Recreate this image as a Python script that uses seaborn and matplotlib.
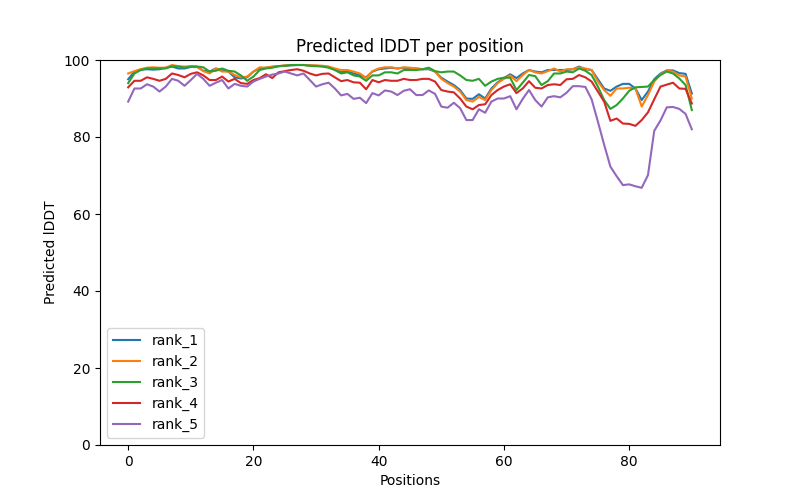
import numpy as np
import pandas as pd
import matplotlib
matplotlib.use('Agg')
import matplotlib.pyplot as plt
import seaborn as sns

# Predicted lDDT per position for the five ranked models
rank_1 = [95, 97, 97.5, 97.6, 97.5, 97.6, 98, 98.3, 97.8, 97.8, 98.2, 98.2, 97.2, 97, 97.8, 97.3, 97, 95.5, 95.2, 95.5,
          97, 97.8, 98, 98.2, 98.4, 98.5, 98.6, 98.7, 98.7, 98.6, 98.5, 98.4, 98.2,
          97.5, 96.8, 97, 96.5, 96, 95.5, 97, 97.6, 97.8, 98, 97.8, 98, 97.8, 97.8, 97.6, 97.6,
          97, 95.4, 94.4, 93.5, 92.2, 90, 89.9, 91.1, 90, 92.6, 94.2, 95.3, 96.3, 95.3, 96.5, 97.4, 97, 96.8,
          97.4, 97.4, 97.4, 97.4, 97.6, 98.3,
          97.6, 97.4, 95, 92.6, 92, 93.1, 93.8, 93.8, 92.6, 89.6, 91.8, 95, 96.5, 97.3, 97.3, 96.6, 96.4, 91.3]
rank_2 = [96.5, 97.1, 97.6, 98, 98.1, 98, 98, 98.7, 98.4, 98.3, 98.4, 98.3, 97.1, 96.5, 97.8, 97, 97, 96.1, 95.5, 95.7,
          97, 98.1, 98, 98.3, 98.4, 98.6, 98.7, 98.7, 98.7, 98.6, 98.6, 98.5, 98.3,
          97.8, 97.4, 97.4, 97, 96.5, 95.3, 97.1, 97.8, 98.1, 98.1, 97.8, 98.1, 98, 97.8, 97.6, 97.8,
          97, 95.1, 94, 93.1, 91.8, 89.6, 89.2, 90.4, 89.6, 92.2, 94, 95.1, 96, 94.5, 96.1, 97.4, 96.8, 96.5,
          97.1, 97.8, 97, 97.6, 97.6, 98.1,
          97.8, 97.4, 94.4, 92.2, 90.7, 92.6, 92.6, 92.8, 92.6, 87.9, 90.9, 94.4, 96.3, 97.2, 97, 96, 95.7, 90]
rank_3 = [94, 96.5, 97.4, 97.8, 97.8, 97.8, 97.8, 98.4, 98.3, 98, 98.3, 98.3, 98.1, 97, 97.2, 97.8, 97.2, 97, 96, 94.6,
          95.7, 97.4, 97.8, 98, 98.4, 98.5, 98.7, 98.7, 98.7, 98.5, 98.4, 98.3, 98,
          97.4, 96.5, 96.8, 96, 95.7, 94.6, 96, 96, 96.8, 96.8, 96.5, 97.4, 97.4, 97.4, 97.6, 98,
          97.1, 96.8, 97, 97, 96, 94.8, 94.6, 95.1, 93.3, 94.4, 95.1, 95.4, 95.4, 92.2, 94.1, 96.1, 95.8, 93.5,
          94.5, 96.5, 96.5, 97, 96.8, 97.8,
          97.2, 96.1, 93.1, 89.6, 87.3, 88.3, 90, 92, 92.9, 93, 93.1, 94.8, 96.1, 97, 96.5, 95.2, 93.5, 87]
rank_4 = [92.9, 94.6, 94.6, 95.5, 95.1, 94.6, 95.1, 96.5, 96.1, 95.5, 96.4, 96.8, 96, 94.8, 94.8, 95.7, 94.4, 95.1, 94,
          93.8, 94.8, 95.3, 96.3, 95.3, 96.8, 97.1, 97.4, 97.6, 97.2, 96.5, 96, 96.4, 96.5,
          95.5, 94.5, 94.8, 94.2, 94.1, 92.4, 94.8, 94.2, 94.8, 94.6, 94.6, 95.1, 94.8, 94.8, 95.1, 95.1,
          94.4, 92.2, 91.8, 91.6, 90, 87.9, 87.2, 88.3, 88.5, 90.9, 92.2, 93.1, 93.7, 91.4, 92.6, 94.5, 92.8,
          92.6, 93.5, 93.7, 93.5, 95, 95.1, 96.1,
          95.5, 94.4, 91.8, 89.2, 84.2, 84.8, 83.5, 83.4, 82.9, 84.4, 86.4, 89.8, 93.1, 93.6, 94.1, 92.6, 92.5, 88.7]
rank_5 = [89.2, 92.6, 92.6, 93.7, 93.1, 91.8, 93.1, 95.1, 94.6, 93.3, 94.8, 96.4, 95.1, 93.3, 94.1, 94.8, 92.6, 93.8,
          93.3, 93.1, 94.4, 95.1, 95.7, 96.2, 96.5, 97, 96.5, 96, 96.5, 94.8, 93.1, 93.7, 94.1,
          92.6, 90.8, 91.2, 89.9, 90.2, 88.8, 91.4, 90.8, 92.1, 91.8, 90.9, 92, 92.4, 90.9, 90.9, 92.1,
          91.2, 87.9, 87.6, 88.9, 87.5, 84.4, 84.4, 87.2, 86.3, 89.2, 90, 90, 90.6, 87.2, 89.9, 92.2, 89.6,
          87.9, 90.3, 90.6, 90.3, 91.5, 93.2, 93.2,
          93, 89.8, 84, 78, 72.3, 69.8, 67.5, 67.7, 67.2, 66.8, 70.1, 81.6, 84.3, 87.7, 87.8, 87.3, 86, 82]

ranks = {'rank_1': rank_1, 'rank_2': rank_2, 'rank_3': rank_3, 'rank_4': rank_4, 'rank_5': rank_5}

rows = []
for name, vals in ranks.items():
    for i, v in enumerate(vals):
        rows.append({'position': i, 'plddt': v, 'model': name})
df = pd.DataFrame(rows)

fig, ax = plt.subplots(figsize=(8, 5), dpi=100)
sns.lineplot(data=df, x='position', y='plddt', hue='model', palette='tab10', ax=ax)
ax.set_ylim(0, 100)
ax.set_title('Predicted lDDT per position')
ax.set_xlabel('Positions')
ax.set_ylabel('Predicted lDDT')
handles, labels = ax.get_legend_handles_labels()
ax.legend(handles, labels, loc='lower left')
plt.savefig('out.png')
